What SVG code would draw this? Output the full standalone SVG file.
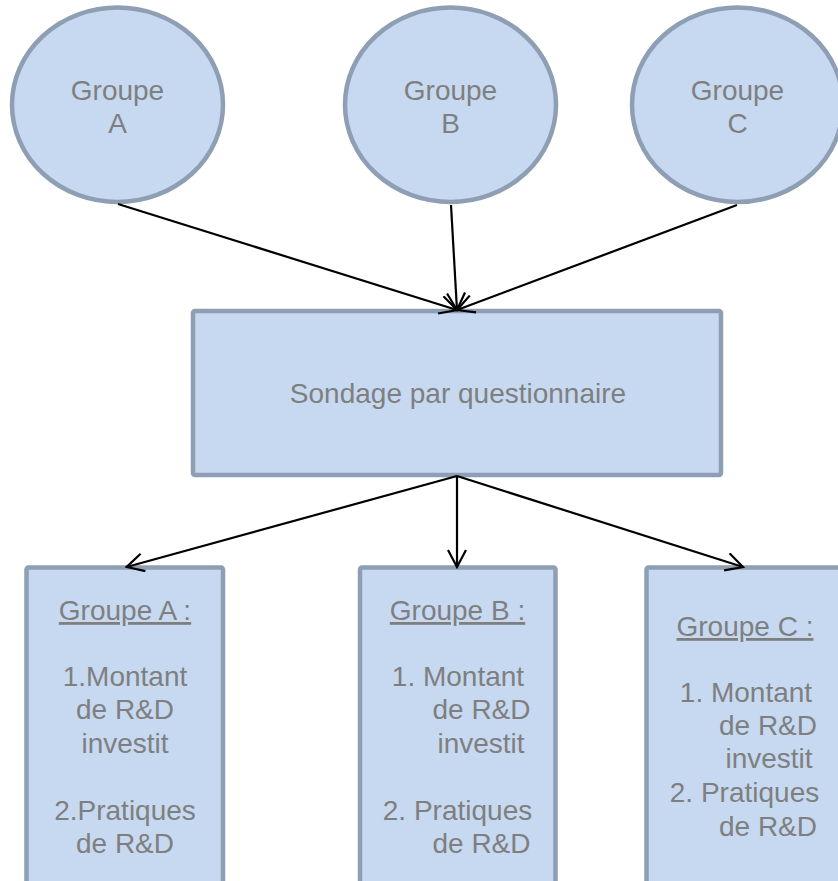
<svg xmlns="http://www.w3.org/2000/svg" width="838" height="881" viewBox="0 0 838 881">
  <style>
    .node { fill: #c6d9f1; stroke: #8e9eb3; stroke-width: 4.5; }
    .lbl { font-family: "Liberation Sans", Arial, sans-serif; font-size: 28px; fill: #7f7f7f; text-anchor: middle; }
    .head { text-decoration: underline; }
    .conn { stroke: #000; stroke-width: 2.2; fill: none; marker-end: url(#arr); }
  </style>
  <defs>
    <marker id="arr" viewBox="0 0 20 20" refX="18" refY="10" markerWidth="20" markerHeight="20" markerUnits="userSpaceOnUse" orient="auto">
      <path d="M1,1 L18,10 L1,19" fill="none" stroke="#000" stroke-width="2.2"/>
    </marker>
  </defs>
  <rect width="838" height="881" fill="#fff"/>

  <!-- Source groups -->
  <g id="groupe-a">
    <ellipse class="node" cx="117.5" cy="104.75" rx="105.5" ry="97.25"/>
    <text class="lbl" x="117.5" y="100">Groupe</text>
    <text class="lbl" x="117.5" y="133">A</text>
  </g>
  <g id="groupe-b">
    <ellipse class="node" cx="450.5" cy="104.75" rx="105.5" ry="97.25"/>
    <text class="lbl" x="450.5" y="100">Groupe</text>
    <text class="lbl" x="450.5" y="133">B</text>
  </g>
  <g id="groupe-c">
    <ellipse class="node" cx="737.5" cy="104.75" rx="105.5" ry="97.25"/>
    <text class="lbl" x="737.5" y="100">Groupe</text>
    <text class="lbl" x="737.5" y="133">C</text>
  </g>

  <!-- Survey -->
  <g id="sondage">
    <rect class="node" x="193" y="311" width="528" height="164" rx="2"/>
    <text class="lbl" x="458" y="403">Sondage par questionnaire</text>
  </g>

  <!-- Result boxes -->
  <g id="resultat-a">
    <rect class="node" x="26.5" y="567.5" width="196.5" height="340" rx="2"/>
    <text class="lbl head" x="125" y="620">Groupe A :</text>
    <text class="lbl" x="125" y="686">1.Montant</text>
    <text class="lbl" x="125" y="719">de R&amp;D</text>
    <text class="lbl" x="125" y="753">investit</text>
    <text class="lbl" x="125" y="820">2.Pratiques</text>
    <text class="lbl" x="125" y="853">de R&amp;D</text>
  </g>
  <g id="resultat-b">
    <rect class="node" x="360" y="567.5" width="195.5" height="340" rx="2"/>
    <text class="lbl head" x="457.5" y="620">Groupe B :</text>
    <text class="lbl" x="458" y="686">1. Montant</text>
    <text class="lbl" x="481.5" y="719">de R&amp;D</text>
    <text class="lbl" x="481" y="753">investit</text>
    <text class="lbl" x="457.5" y="820">2. Pratiques</text>
    <text class="lbl" x="481.5" y="853">de R&amp;D</text>
  </g>
  <g id="resultat-c">
    <rect class="node" x="646.5" y="567.5" width="240" height="340" rx="2"/>
    <text class="lbl head" x="745" y="636">Groupe C :</text>
    <text class="lbl" x="746" y="702">1. Montant</text>
    <text class="lbl" x="768" y="735">de R&amp;D</text>
    <text class="lbl" x="769" y="768">investit</text>
    <text class="lbl" x="744.5" y="802">2. Pratiques</text>
    <text class="lbl" x="768" y="836">de R&amp;D</text>
  </g>

  <!-- Connectors -->
  <g id="connectors">
    <line class="conn" x1="118" y1="204" x2="457" y2="310"/>
    <line class="conn" x1="451" y1="205" x2="457" y2="310"/>
    <line class="conn" x1="737" y1="205" x2="457" y2="310"/>
    <line class="conn" x1="457" y1="476" x2="126.6" y2="567"/>
    <line class="conn" x1="457" y1="476" x2="457" y2="567"/>
    <line class="conn" x1="457" y1="476" x2="743" y2="567"/>
  </g>
</svg>
